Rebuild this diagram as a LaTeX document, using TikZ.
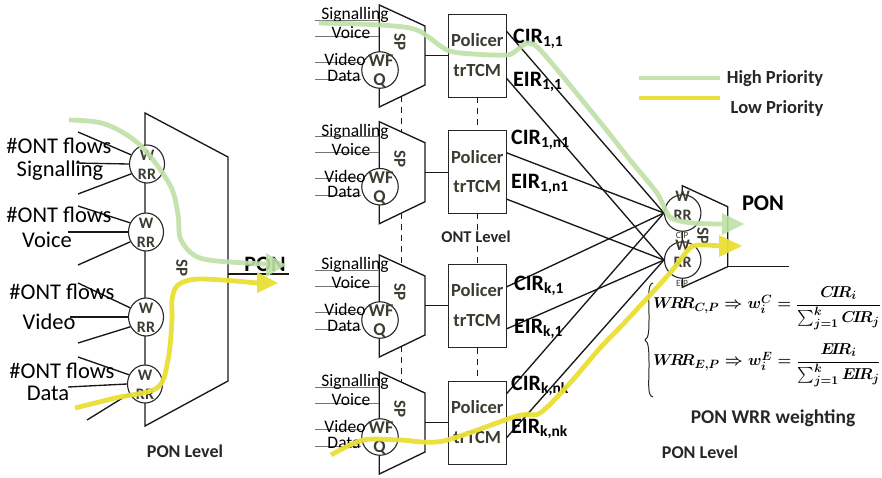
\documentclass[tikz,border=0pt]{standalone}
\usepackage{amsmath,amsbsy}
\usepackage{fontspec}
\setmainfont{Carlito}
\usetikzlibrary{shapes.geometric}
\definecolor{hiprio}{HTML}{BEE0A6}
\definecolor{loprio}{HTML}{E9DF35}
\definecolor{softink}{HTML}{3C3C30}
\tikzset{
  ln/.style={draw=black!90,line width=1.35pt},
  thin ln/.style={draw=black!55,line width=.9pt},
  dashln/.style={draw=black!90,line width=1.5pt,dash pattern=on 6pt off 5pt},
  wrr/.style={ellipse,draw=black!85,line width=1.1pt,fill=white,inner sep=0pt,minimum width=35pt,minimum height=38pt},
  wfq/.style={circle,draw=black!85,line width=1.1pt,fill=white,inner sep=0pt,minimum size=36.5pt},
  policer/.style={rectangle,draw=black!85,line width=1.1pt,fill=white,inner sep=0pt,minimum width=58pt,minimum height=83pt},
  big/.style={font=\fontsize{22.5}{22}\selectfont,inner sep=0pt},
  mid/.style={font=\fontsize{17.5}{18}\selectfont,inner sep=0pt},
  pol/.style={font=\fontsize{18.5}{19}\selectfont\bfseries,text=softink,inner sep=0pt},
  rate/.style={font=\fontsize{22}{22}\selectfont\bfseries,anchor=base west,inner sep=0pt},
  small/.style={font=\fontsize{16}{16}\selectfont\bfseries,text=softink,inner sep=0pt},
  sp/.style={font=\fontsize{17}{17}\selectfont\bfseries,text=softink,rotate=-90,inner sep=0pt},
  lbl/.style={font=\fontsize{18}{18}\selectfont\bfseries,text=black!85,inner sep=0pt},
  eqn/.style={anchor=west,inner sep=0pt,scale=1.095},
  hi/.style={draw=hiprio,line width=4.8pt,opacity=.9,line cap=butt},
  lo/.style={draw=loprio,line width=4.8pt,opacity=.95,line cap=butt},
}
\newcommand{\module}[2]{%
  \draw[ln] (379.3,5+#2) -- (425,26+#2) -- (425,85+#2) -- (379.3,107+#2) -- cycle;
  \node[wfq] (#1w) at (380,70+#2) {};
  \coordinate (#1a) at (315,20+#2);
  \coordinate (#1b) at (315,36+#2);
  \coordinate (#1c) at (315,62+#2);
  \coordinate (#1d) at (315,79+#2);
  \coordinate (#1e) at (379.3,20+#2);
  \coordinate (#1f) at (379.3,36+#2);
  \draw[thin ln] (#1a) -- (#1e);
  \draw[thin ln] (#1b) -- (#1f);
  \draw[thin ln] (#1c) -- (#1c -| #1w.west);
  \draw[thin ln] (#1d) -- (#1d -| #1w.west);
  \node[mid] (#1t1) at (355,15+#2) {Signalling};
  \node[mid] (#1t2) at (351,33+#2) {Voice};
  \node[mid] (#1t3) at (345,59.5+#2) {Video};
  \node[mid] (#1t4) at (344,75.5+#2) {Data};
  \node[font=\fontsize{18}{18}\selectfont\bfseries,text=softink,inner sep=0pt] (#1t5) at (381,61+#2) {WF};
  \node[font=\fontsize{18}{18}\selectfont\bfseries,text=softink,inner sep=0pt] (#1t6) at (379.5,81+#2) {Q};
  \node[sp] (#1t7) at (400,42+#2) {SP};
  \node[policer] (#1p) at (477.3,55.7+#2) {};
  \node[pol] (#1t8) at (477.3,40+#2) {Policer};
  \node[pol] (#1t9) at (477.3,70+#2) {trTCM};
  \coordinate (#1s) at (425,55.7+#2);
  \draw[ln] (#1s) -- (#1s -| #1p.west);
}
\begin{document}
\begin{tikzpicture}[x=1pt,y=-1pt]
\useasboundingbox (0,0) rectangle (882,477);

% ---------- left: PON level ----------
\draw[ln] (145,113) -- (228,157) -- (228,381) -- (145,426) -- cycle;
\node[wrr] (l1) at (147,164) {};
\node[wrr] (l2) at (146,232) {};
\node[wrr] (l3) at (146,317) {};
\node[wrr] (l4) at (145,384) {};
\foreach \n in {l1,l2,l3,l4}{
  \node[small] at ([yshift=9pt]\n.center) {W};
  \node[small] at ([yshift=-10pt]\n.center) {RR};
}
\coordinate (a1) at (78,132); \coordinate (a2) at (76,163); \coordinate (a3) at (78,194);
\coordinate (b1) at (78,206); \coordinate (b2) at (68,232); \coordinate (b3) at (78,265);
\coordinate (c1) at (78,283); \coordinate (c2) at (70,317); \coordinate (c3) at (78,343);
\coordinate (d1) at (78,357); \coordinate (d2) at (68,387); \coordinate (d3) at (87,420);
\draw[ln] (a1) -- (l1.150); \draw[ln] (a2) -- (l1.west); \draw[ln] (a3) -- (l1.212);
\draw[ln] (b1) -- (l2.150); \draw[ln] (b2) -- (l2.west); \draw[ln] (b3) -- (l2.212);
\draw[ln] (c1) -- (l3.150); \draw[ln] (c2) -- (l3.west); \draw[ln] (c3) -- (l3.212);
\draw[ln] (d1) -- (l4.150); \draw[ln] (d2) -- (l4.west); \draw[ln] (d3) -- (l4.212);
\node[big] (t1) at (59,146) {\#ONT flows};
\node[big] (t2) at (60,171) {Signalling};
\node[big] (t3) at (59,215) {\#ONT flows};
\node[big] (t4) at (47,240) {Voice};
\node[big] (t5) at (62,292) {\#ONT flows};
\node[big] (t6) at (49,322) {Video};
\node[big] (t7) at (62,371) {\#ONT flows};
\node[big] (t8) at (48,393) {Data};
\node[sp] (t9) at (182,268) {SP};
\coordinate (lo) at (228,274); \coordinate (le) at (289,274);
\draw[ln] (lo) -- (le);
\node[font=\fontsize{22}{22}\selectfont,inner sep=0pt] (t10) at (265,264) {\textbf{PON}};
\node[lbl] (t11) at (185,451) {PON Level};

% ---------- middle: ONT level ----------
\foreach \yA/\yB in {96/132,213/265,346/382}{
  \draw[dashln] (401.7,\yA) -- (401.7,\yB);
}
\foreach \yA/\yB in {97/131,213/265,348/382}{
  \draw[dashln] (477.3,\yA) -- (477.3,\yB);
}
\module{m1}{0}
\module{m2}{116.7}
\module{m3}{250}
\module{m4}{367}
\node[font=\fontsize{16.5}{17}\selectfont\bfseries,text=black!85,inner sep=0pt] (ont) at (476,237) {ONT Level};
\node[lbl] (pl2) at (700,452) {PON Level};

% ---------- right: PON WRR ----------
\draw[ln] (682.3,185.7) -- (727.7,206.7) -- (727.7,266.7) -- (682.3,287.3) -- cycle;
\node[wfq] (r1) at (682.7,213) {};
\node[wfq] (r2) at (682.7,260) {};
\coordinate (ro) at (727.7,266.7); \coordinate (re) at (789,266.7);
\draw[ln] (ro) -- (re);
\coordinate (o1) at (506.3,31);
\coordinate (o2) at (506.3,78);
\coordinate (o3) at (506.3,152.7);
\coordinate (o4) at (506.3,199);
\coordinate (o5) at (506.3,287);
\coordinate (o6) at (506.3,329);
\coordinate (o7) at (506.3,394);
\coordinate (o8) at (506.3,438);
\foreach \s in {o1,o3,o5,o7}{\draw[ln] (\s) -- (r1.west);}
\foreach \s in {o2,o4,o6,o8}{\draw[ln] (\s) -- (r2.west);}
\node[small] (rw1) at (682.7,196.5) {W};
\node[small] (rr1) at (682.7,215) {RR};
\node[font=\fontsize{9.5}{10}\selectfont,text=softink,inner sep=0pt] (cip) at (682,235) {CIP};
\node[small] (rw2) at (682.7,245) {W};
\node[small] (rr2) at (682.7,262) {RR};
\node[font=\fontsize{9.5}{10}\selectfont,text=softink,inner sep=0pt] (eip) at (682,283) {EIP};
\node[sp] (rsp) at (703,236) {SP};
\node[font=\fontsize{22.5}{22}\selectfont\bfseries,inner sep=0pt] (rpon) at (763,203) {PON};

% rate labels
\node[rate] (q1) at (513,43) {CIR$_{\text{\fontsize{15.5}{16}\selectfont\bfseries 1,1}}$};
\node[rate] (q2) at (513,86) {EIR$_{\text{\fontsize{15.5}{16}\selectfont\bfseries 1,1}}$};
\node[rate] (q3) at (511,144) {CIR$_{\text{\fontsize{15.5}{16}\selectfont\bfseries 1,n1}}$};
\node[rate] (q4) at (511,188) {EIR$_{\text{\fontsize{15.5}{16}\selectfont\bfseries 1,n1}}$};
\node[rate] (q5) at (514,290) {CIR$_{\text{\fontsize{15.5}{16}\selectfont\bfseries k,1}}$};
\node[rate] (q6) at (514,333) {EIR$_{\text{\fontsize{15.5}{16}\selectfont\bfseries k,1}}$};
\node[rate] (q7) at (511,390) {CIR$_{\text{\fontsize{15.5}{16}\selectfont\bfseries k,nk}}$};
\node[rate] (q8) at (511,433) {EIR$_{\text{\fontsize{15.5}{16}\selectfont\bfseries k,nk}}$};

% equations
\coordinate (br1) at (653,283); \coordinate (br2) at (645,340); \coordinate (br3) at (653,397);
\draw[black!85,line width=1pt] (br1) .. controls (647,284) and (649,300) .. (649,315) .. controls (649,330) and (649,338) .. (br2) .. controls (649,342) and (649,352) .. (649,367) .. controls (649,382) and (647,396) .. (br3);
\node[eqn] (e1) at (653,308) {\fontsize{15}{17}\selectfont$\boldsymbol{W\!R\!R_{C,P}\Rightarrow w_i^C=\dfrac{C\!I\!R_i}{\sum_{j=1}^k C\!I\!R_j}}$};
\node[eqn] (e2) at (653,365) {\fontsize{15}{17}\selectfont$\boldsymbol{W\!R\!R_{E,P}\Rightarrow w_i^E=\dfrac{E\!I\!R_i}{\sum_{j=1}^k E\!I\!R_j}}$};
\node[font=\fontsize{19.5}{20}\selectfont\bfseries,text=black!85,inner sep=0pt] (pww) at (773,418) {PON WRR weighting};

% legend
\coordinate (g1) at (639,78); \coordinate (g2) at (720,78);
\coordinate (y1) at (639,98); \coordinate (y2) at (720,98);
\draw[hi] (g1) -- (g2);
\draw[lo] (y1) -- (y2);
\node[font=\fontsize{18.5}{19}\selectfont\bfseries,text=black!85,inner sep=0pt] (hp) at (775,79) {High Priority};
\node[font=\fontsize{18.5}{19}\selectfont\bfseries,text=black!85,inner sep=0pt] (lp) at (777,108) {Low Priority};

% priority paths: left
\draw[hi] plot[smooth,tension=.55] coordinates {(69,120) (105,124) (140,145) (170,185) (178,215) (181,240) (200,258) (245,263) (268,264)};
\fill[hiprio,opacity=.9] (266,253) -- (286,265) -- (266,277) -- cycle;
\draw[lo] plot[smooth,tension=.55] coordinates {(75,408) (115,398) (157,388) (168,360) (172,320) (172,300) (178,285) (200,279) (258,283)};
\fill[loprio,opacity=.95] (257,272) -- (278,283) -- (257,293) -- cycle;

% priority paths: middle and right
\draw[hi] plot[smooth,tension=.5] coordinates {(319,23) (380,25) (417,30) (447,50) (473,54) (507,55) (517,50) (528,43) (543,53) (600,122) (630,160) (657,193) (670,217) (693,223) (722,224)};
\fill[hiprio,opacity=.9] (722,213) -- (744,224) -- (722,235) -- cycle;
\draw[lo] plot[smooth,tension=.5] coordinates {(331,455) (363,440) (400,440) (443,441) (517,416) (540,413) (570,383) (600,348) (627,320) (670,273) (690,248) (703,245) (720,246)};
\fill[loprio,opacity=.95] (719,235) -- (742,246) -- (719,257) -- cycle;
\end{tikzpicture}
\end{document}
